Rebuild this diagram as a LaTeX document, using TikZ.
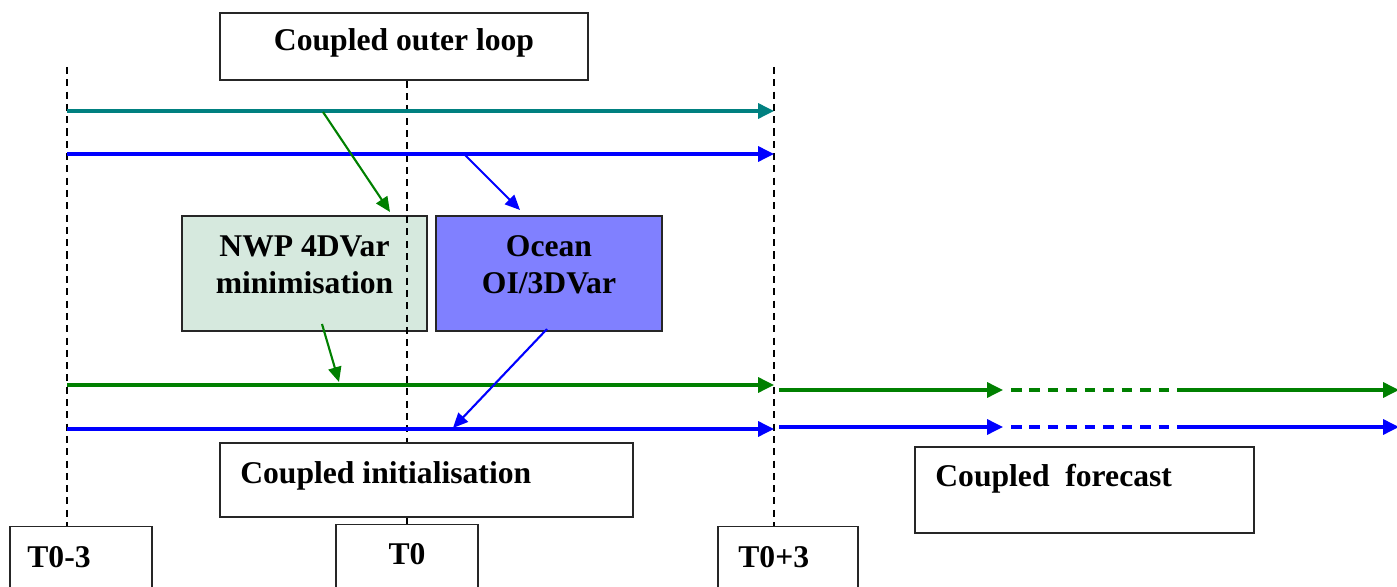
\documentclass[tikz,border=0pt]{standalone}
\usepackage{fontspec}
\setmainfont{Liberation Serif}
\usepackage{tikz}
\usetikzlibrary{arrows.meta}

\definecolor{loopteal}{HTML}{008080}
\definecolor{nwpgreen}{HTML}{008000}
\definecolor{oceanblue}{HTML}{0000FF}
\definecolor{nwpfill}{HTML}{D6E9DE}
\definecolor{oceanfill}{HTML}{8080FF}

\begin{document}
\begin{tikzpicture}[x=0.02cm, y=-0.02cm,
        box/.style={draw=black!85, line width=1pt, inner sep=0pt},
        lbl/.style={font=\fontsize{18}{21}\selectfont\bfseries, inner sep=0pt},
        timeline/.style={dash pattern=on 4pt off 3pt, line width=0.9pt},
        flow/.style={line width=1.8pt, -{Triangle[length=9pt,width=8.5pt]}},
        link/.style={line width=1.2pt, -{Triangle[length=8.5pt,width=7.5pt]}}]

        \useasboundingbox (0,0) rectangle (1397,587);

        \node [box, minimum width=7.36cm, minimum height=1.34cm] (outer) at (404,46.5) {};
        \node [lbl, anchor=base] (outerText) at (404,51) {Coupled outer loop};
        \node [box, fill=nwpfill, minimum width=4.9cm, minimum height=2.3cm] (nwp) at (304.5,273.5) {};
        \node [box, fill=oceanfill, minimum width=4.52cm, minimum height=2.3cm] (ocean) at (549,273.5) {};
        \node [lbl, align=center, anchor=north] (nwpText) at (304.5,235) {NWP 4DVar\\minimisation};
        \node [lbl, align=center, anchor=north] (oceanText) at (549,235) {Ocean\\OI/3DVar};
        \node [box, minimum width=8.26cm, minimum height=1.48cm] (init) at (426.5,480) {};
        \node [lbl, anchor=base west] (initText) at (240,484) {Coupled initialisation};
        \node [box, minimum width=6.78cm, minimum height=1.72cm] (fcst) at (1084.5,490) {};
        \node [lbl, anchor=base west] (fcstText) at (935,487) {Coupled\ \ forecast};

        \node [box, minimum width=2.84cm, minimum height=1.5cm] (Tm) at (81,564) {};
        \node [box, minimum width=2.84cm, minimum height=1.5cm] (T0) at (407,562) {};
        \node [box, minimum width=2.8cm, minimum height=1.5cm] (Tp) at (788,564) {};
        \node [lbl, anchor=base west] (TmText) at (27,567) {T0-3};
        \node [lbl, anchor=base] (T0Text) at (407,564) {T0};
        \node [lbl, anchor=base west] (TpText) at (738,567) {T0+3};

        \coordinate (lineL) at (67,67);
        \coordinate (lineR) at (774,67);
        \draw [timeline] (lineL) -- (lineL |- Tm.north);
        \draw [timeline] (lineR) -- (lineR |- Tp.north);
        \draw [timeline] (T0.north |- outer.south) -- (T0.north |- init.north);
        \draw [line width=0.9pt] (T0.north |- init.south) -- (T0.north);

        \coordinate (tealL) at (67,111);
        \coordinate (tealR) at (774,111);
        \coordinate (blueL) at (67,154);
        \coordinate (blueR) at (774,154);
        \coordinate (greenL) at (67,385);
        \coordinate (greenR) at (774,385);
        \coordinate (initL) at (67,429);
        \coordinate (initR) at (774,429);
        \draw [flow, loopteal] (tealL) -- (tealR);
        \draw [flow, oceanblue] (blueL) -- (blueR);
        \draw [flow, nwpgreen] (greenL) -- (greenR);
        \draw [flow, oceanblue] (initL) -- (initR);

        \coordinate (gA) at (779,390);
        \coordinate (gB) at (1003,390);
        \coordinate (gC) at (1011,390);
        \coordinate (gD) at (1182,390);
        \coordinate (gE) at (1399,390);
        \draw [flow, nwpgreen] (gA) -- (gB);
        \draw [nwpgreen, line width=1.8pt, dash pattern=on 6pt off 4.5pt] (gC) -- (gD);
        \draw [flow, nwpgreen] (gD) -- (gE);
        \coordinate (bA) at (779,427);
        \coordinate (bB) at (1003,427);
        \coordinate (bC) at (1011,427);
        \coordinate (bD) at (1182,427);
        \coordinate (bE) at (1399,427);
        \draw [flow, oceanblue] (bA) -- (bB);
        \draw [oceanblue, line width=1.8pt, dash pattern=on 6pt off 4.5pt] (bC) -- (bD);
        \draw [flow, oceanblue] (bD) -- (bE);

        \coordinate (nwpIn) at (390,212);
        \coordinate (oceanIn) at (520,210);
        \coordinate (nwpOut) at (322,324);
        \coordinate (oceanOut) at (547,329);
        \draw [link, nwpgreen] (323,112) -- (nwpIn);
        \draw [link, oceanblue] (464,154) -- (oceanIn);
        \draw [link, nwpgreen] (nwpOut) -- (339,382);
        \draw [link, oceanblue] (oceanOut) -- (453,428);
\end{tikzpicture}
\end{document}
